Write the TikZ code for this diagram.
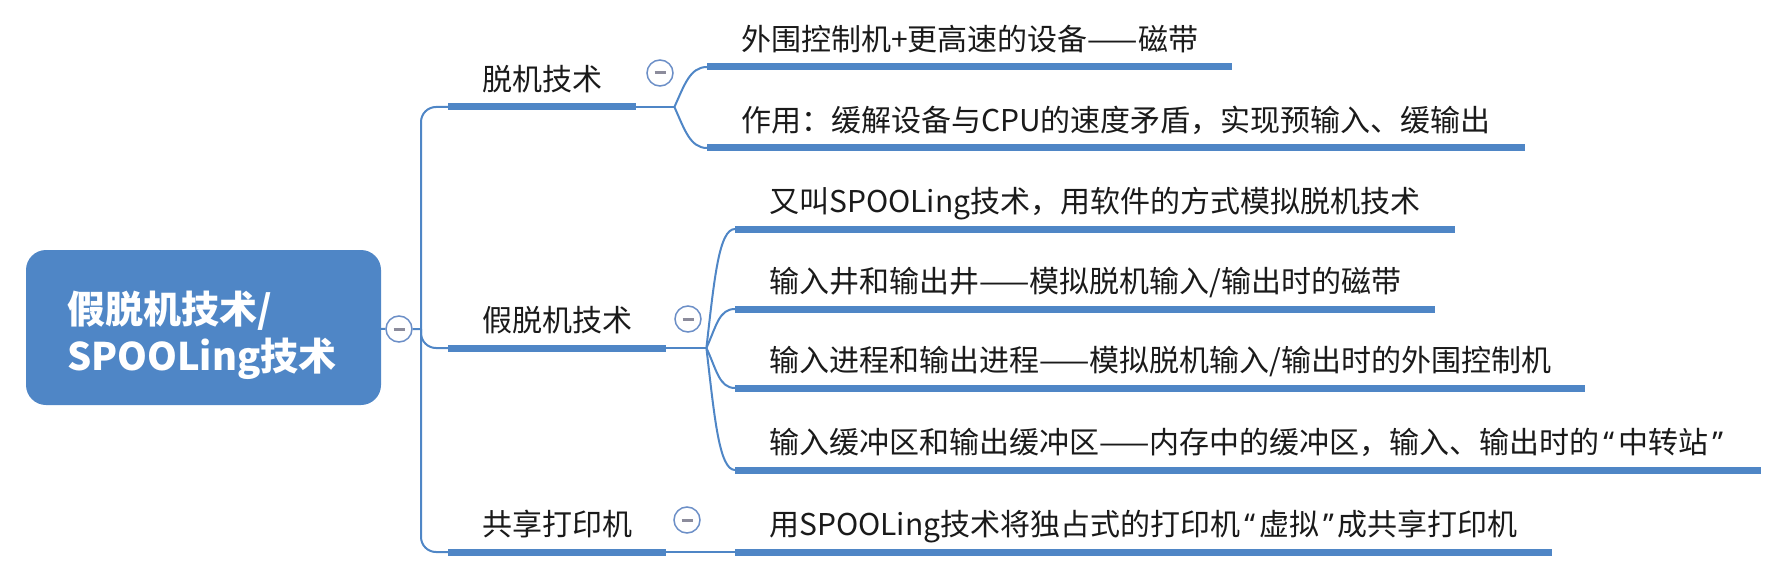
\documentclass[tikz,border=0pt]{standalone}
\usepackage{fontspec}
\setmainfont{Noto Sans CJK SC}
\newfontfamily\quotefont{Noto Sans}
\usepackage{xcolor}
\usetikzlibrary{positioning,calc}
\definecolor{mapblue}{RGB}{79,134,198}
\definecolor{foldblue}{RGB}{108,143,199}
\definecolor{foldgray}{RGB}{140,140,156}
\definecolor{inkblack}{RGB}{26,26,26}
\tikzset{
  rootbox/.style={rounded corners=20pt, fill=mapblue, text=white, font=\fontsize{38}{47}\selectfont\bfseries,
    align=left, text width=273pt, inner xsep=41pt, minimum width=355pt, minimum height=155pt,
    text height=54pt, text depth=62pt},
  topic/.style={anchor=south west, font=\fontsize{30}{36}\selectfont, text=inkblack,
    inner xsep=34pt, inner ysep=10.6pt, text height=22pt, text depth=6pt},
  underline/.style={mapblue, line width=7pt},
  thinline/.style={mapblue, line width=2pt},
  fold/.style={circle, draw=foldblue, line width=1.5pt, fill=white, minimum size=26pt, inner sep=0pt}
}
\newcommand{\foldmark}{\textcolor{foldgray}{\rule[-1pt]{11pt}{3pt}}}
\newcommand{\openq}{\kern4pt{\quotefont “}\kern4pt}
\newcommand{\closeq}{\kern4pt{\quotefont ”}\kern4pt}

\begin{document}
\begin{tikzpicture}[x=1pt,y=-1pt]
    \useasboundingbox (0,0) rectangle (1765,575);
    % root and first level
    \node [rootbox] (root) at (203.5,327.5) {\lineskiplimit=-100pt\relax 假脱机技术/\\SPOOLing技术};
    \node [topic] (b1) at (448,107) {脱机技术};
    \node [topic] (b2) at (448,348) {假脱机技术};
    \node [topic] (b3) at (448,552) {共享打印机};
    \coordinate (spine) at (421,329);
    \coordinate (f1) at ($(b1.south east)+(38,0)$);
    \coordinate (f2) at ($(b2.south east)+(40,0)$);
    % leaves
    \node [topic] (l11) at (707,67) {外围控制机+更高速的设备——磁带};
    \node [topic] (l12) at (707,148) {作用：缓解设备与CPU的速度矛盾，实现预输入、缓输出};
    \node [topic] (l21) at (735,229) {又叫SPOOLing技术，用软件的方式模拟脱机技术};
    \node [topic] (l22) at (735,309) {输入井和输出井——模拟脱机输入/输出时的磁带};
    \node [topic] (l23) at (735,388) {输入进程和输出进程——模拟脱机输入/输出时的外围控制机};
    \node [topic] (l24) at (735,470) {输入缓冲区和输出缓冲区——内存中的缓冲区，输入、输出时的\openq 中转站\closeq};
    \node [topic] (l31) at (735,552) {用SPOOLing技术将独占式的打印机\openq 虚拟\closeq 成共享打印机};
    % connectors
    \draw [thinline, rounded corners=15pt] (b1.south west) -| (spine) |- (b3.south west);
    \draw [thinline, rounded corners=15pt] (spine) |- (b2.south west);
    \draw [thinline] (b1.south east) -- (f1);
    \draw [thinline] (f1) .. controls +(10,-22) and +(-17,0) .. (l11.south west);
    \draw [thinline] (f1) .. controls +(10,22) and +(-17,0) .. (l12.south west);
    \draw [thinline] (b2.south east) -- (f2);
    \draw [thinline] (f2) .. controls +(8,-70) and +(-16,0) .. (l21.south west);
    \draw [thinline] (f2) .. controls +(10,-22) and +(-16,0) .. (l22.south west);
    \draw [thinline] (f2) .. controls +(10,21) and +(-16,0) .. (l23.south west);
    \draw [thinline] (f2) .. controls +(8,68) and +(-16,0) .. (l24.south west);
    \draw [thinline] (b3.south east) -- (l31.south west);
    \foreach \n in {b1,b2,b3,l11,l12,l21,l22,l23,l24,l31}
        \draw [underline] (\n.south west) -- (\n.south east);
    % fold marks
    \node [fold] (c0) at (399,329) {\foldmark};
    \node [fold] (c1) at (660,73) {\foldmark};
    \node [fold] (c2) at (688,319) {\foldmark};
    \node [fold] (c3) at (687,520) {\foldmark};
    \draw [thinline] (root) -- (c0) -- (spine);
\end{tikzpicture}
\end{document}
